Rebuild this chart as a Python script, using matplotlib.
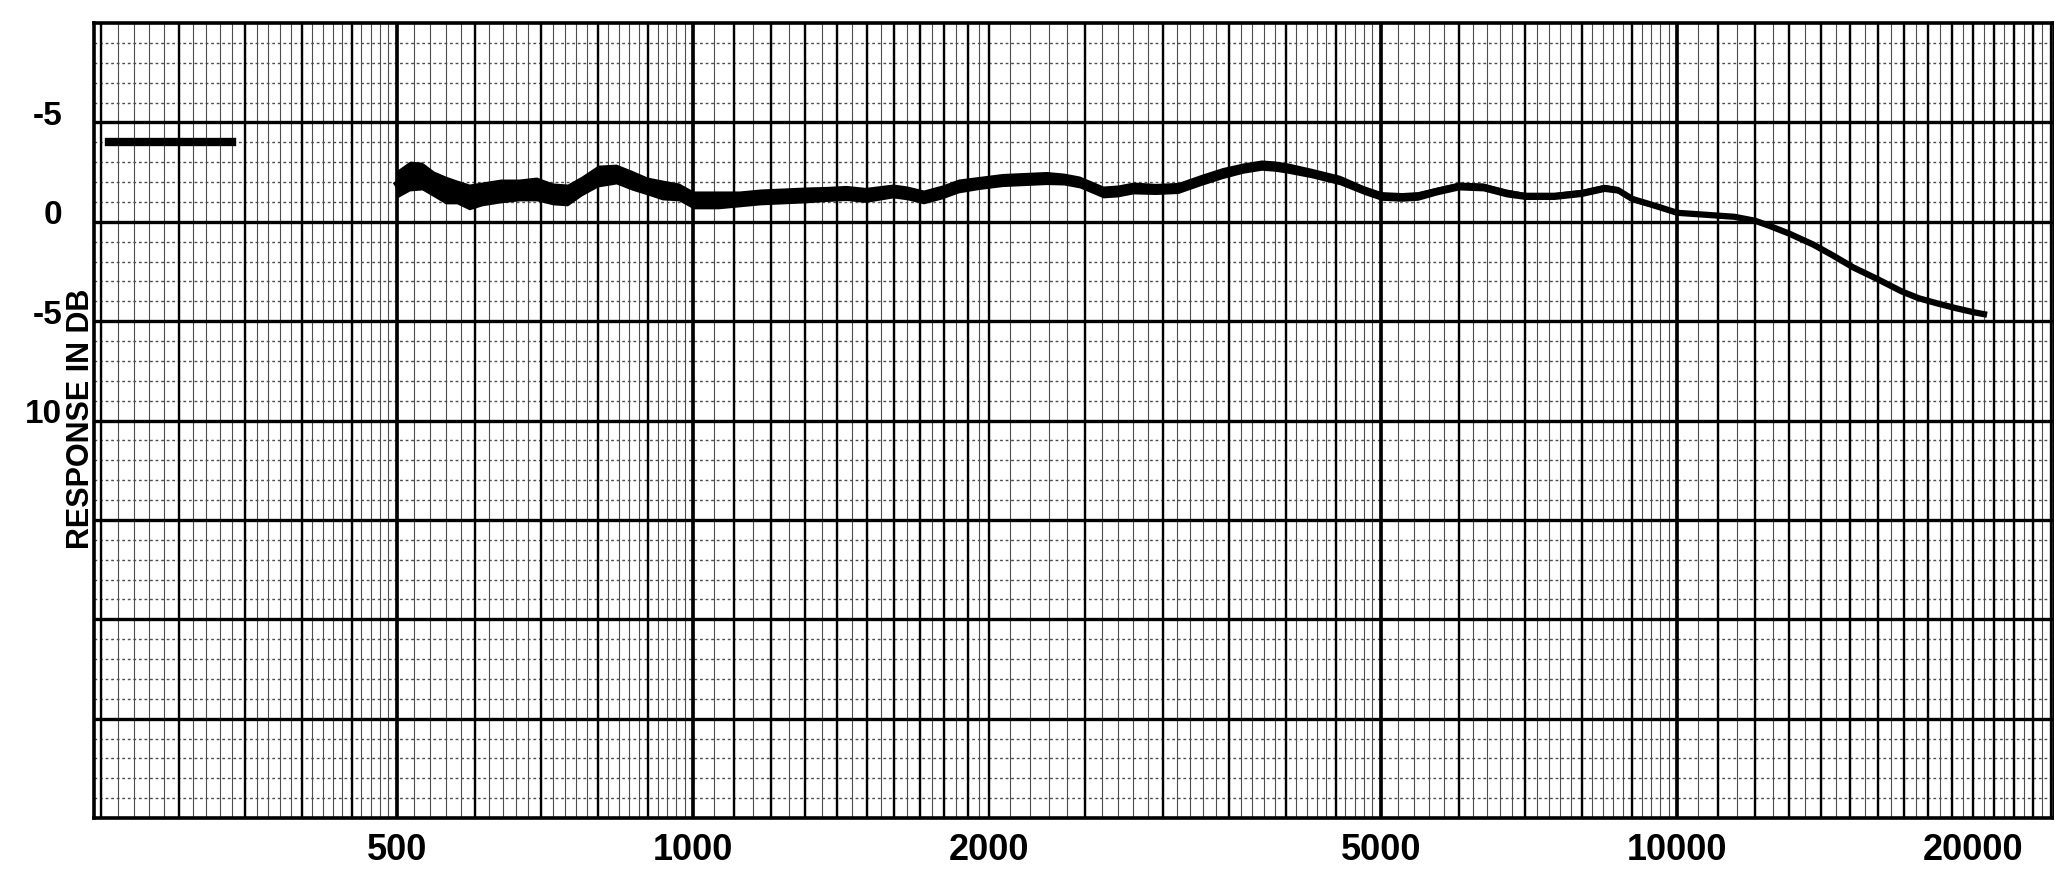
import matplotlib
matplotlib.use("Agg")
import matplotlib.pyplot as plt
import numpy as np

# frequency response trace (Hz, dB)
freq_hz = [500, 515, 530, 545, 560, 575, 592, 610, 637, 665, 693, 720, 745, 770,
           800, 835, 865, 898, 930, 967, 1000, 1060, 1114, 1170, 1234, 1300, 1368,
           1430, 1496, 1596, 1650, 1714, 1790, 1860, 1950, 2062, 2170, 2284, 2380,
           2470, 2610, 2700, 2800, 2950, 3110, 3280, 3450, 3620, 3780, 3900, 4020,
           4250, 4540, 4800, 5000, 5250, 5450, 5700, 6000, 6350, 6700, 7000, 7500,
           8000, 8430, 8700, 9000, 9500, 10000, 10700, 11430, 12000, 12400, 13000,
           13750, 14400, 15100, 16000, 16900, 17600, 18350, 19200, 20000, 20500]
level_db = [1.9, 2.3, 2.3, 1.9, 1.6, 1.5, 1.25, 1.4, 1.55, 1.6, 1.65, 1.4, 1.35, 1.8,
            2.3, 2.4, 2.1, 1.8, 1.6, 1.5, 1.1, 1.1, 1.15, 1.25, 1.3, 1.35, 1.4,
            1.45, 1.35, 1.55, 1.45, 1.25, 1.5, 1.8, 1.95, 2.1, 2.15, 2.2, 2.15,
            2.0, 1.5, 1.55, 1.7, 1.65, 1.7, 2.1, 2.45, 2.7, 2.85, 2.8, 2.7,
            2.45, 2.1, 1.6, 1.3, 1.25, 1.3, 1.55, 1.8, 1.75, 1.45, 1.3, 1.3,
            1.45, 1.7, 1.6, 1.15, 0.8, 0.45, 0.35, 0.25, 0.05, -0.2, -0.6,
            -1.15, -1.7, -2.3, -2.9, -3.5, -3.85, -4.1, -4.35, -4.55, -4.65]
# half width of the noisy pen trace (dB)
spread_db = [0.7, 0.75, 0.7, 0.65, 0.7, 0.6, 0.65, 0.6, 0.6, 0.55, 0.6, 0.55, 0.55, 0.5,
             0.55, 0.5, 0.5, 0.45, 0.5, 0.45, 0.45, 0.45, 0.4, 0.4, 0.4, 0.4, 0.38,
             0.38, 0.38, 0.35, 0.35, 0.35, 0.35, 0.35, 0.33, 0.33, 0.33, 0.33, 0.3,
             0.3, 0.3, 0.3, 0.3, 0.28, 0.28, 0.28, 0.28, 0.26, 0.26, 0.26, 0.26,
             0.24, 0.24, 0.22, 0.22, 0.22, 0.22, 0.2, 0.2, 0.2, 0.2, 0.18, 0.18,
             0.18, 0.18, 0.16, 0.15, 0.12, 0.1, 0.08, 0.08, 0.07, 0.07, 0.07,
             0.07, 0.07, 0.07, 0.07, 0.07, 0.07, 0.07, 0.07, 0.07, 0.07]

# reference level mark at top left
ref_hz = [255, 340]
ref_db = [4, 4]

x_labels = [500, 1000, 2000, 5000, 10000, 20000]
y_ticks = [5, 0, -5, -10]
y_labels = ["-5", "0", "-5", "10"]

font = ["Liberation Sans", "DejaVu Sans"]

fig = plt.figure(figsize=(20.54, 8.70), dpi=100)
ax = fig.add_axes([94 / 2054, 51 / 870, 1960 / 2054, 795 / 870])
ax.set_xscale("log")
ax.set_xlim(246, 24150)
ax.set_ylim(-30, 10)

# chart paper grid
heavy = np.concatenate([np.arange(250, 500, 50), np.arange(500, 1000, 100),
                        np.arange(1000, 2000, 100), np.arange(2000, 5000, 500),
                        np.arange(5000, 10000, 1000), np.arange(10000, 25000, 1000)])
thin = np.concatenate([np.arange(250, 500, 10), np.arange(500, 1000, 20),
                       np.arange(1000, 2000, 50), np.arange(2000, 5000, 100),
                       np.arange(5000, 10000, 200), np.arange(10000, 25000, 500)])
thick = [500, 1000, 5000, 10000]
ax.vlines(thin, -30, 10, color="0.3", lw=0.8, zorder=1)
ax.vlines(heavy, -30, 10, color="black", lw=1.7, zorder=2)
ax.vlines(thick, -30, 10, color="black", lw=2.6, zorder=2)
ax.hlines(np.arange(-30, 10, 1), 246, 24150, color="0.3", lw=1.0,
          linestyles=(0, (2, 2)), zorder=1)
ax.hlines(np.arange(-25, 10, 5), 246, 24150, color="black", lw=2.4, zorder=2)

for s in ax.spines.values():
    s.set_linewidth(2.6)

ax.fill_between(freq_hz, np.array(level_db) - np.array(spread_db),
                np.array(level_db) + np.array(spread_db), color="black", lw=0, zorder=3)
ax.plot(freq_hz, level_db, color="black", lw=4.5, zorder=4)
ax.plot(ref_hz, ref_db, color="black", lw=6, zorder=4)

ax.set_xticks(x_labels)
ax.set_xticklabels([str(v) for v in x_labels], family=font, fontsize=26, weight="bold")
ax.set_xticks([], minor=True)
ax.tick_params(axis="x", length=0, pad=10)
ax.set_yticks([])

for v, lab in zip(y_ticks, y_labels):
    ax.annotate(lab, xy=(0, v), xycoords=ax.get_yaxis_transform(), xytext=(-23, 5),
                textcoords="offset points", ha="right", va="center",
                family=font, fontsize=24, weight="bold")

fig.text(81 / 2054, 451 / 870, "RESPONSE IN DB", rotation=90, ha="center", va="center",
         family=font, fontsize=22, weight="bold")

fig.savefig("out.png", dpi=100)
